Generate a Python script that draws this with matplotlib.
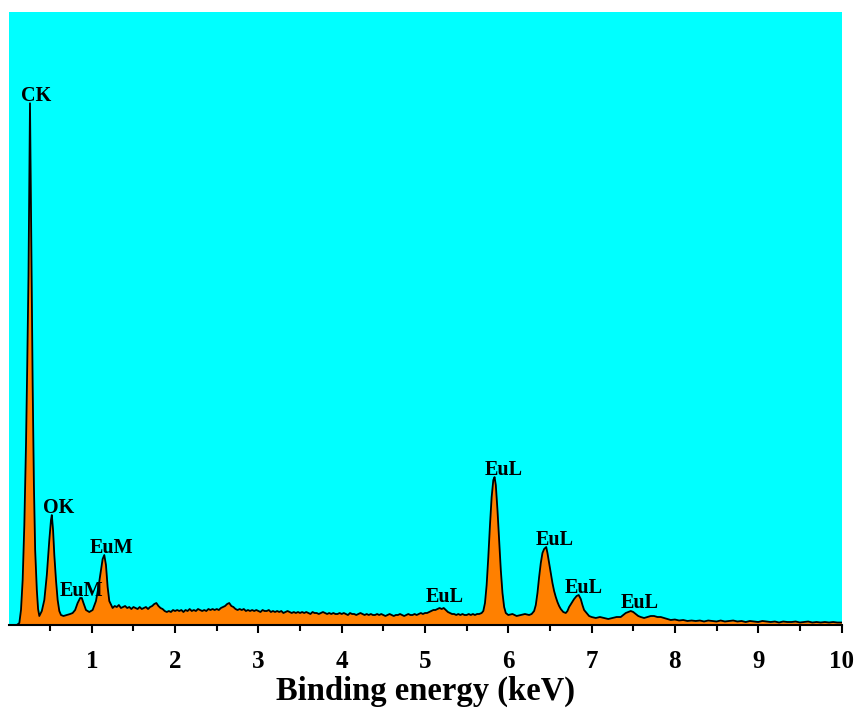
import matplotlib
matplotlib.use("Agg")
import matplotlib.pyplot as plt
from matplotlib.ticker import FixedLocator

# EDS spectrum, energy (keV) and detector counts (a.u.), in three stretches
# C K, O K and Eu M lines
low_energy = [
    0.10, 0.13, 0.15, 0.17, 0.19, 0.21, 0.225, 0.24, 0.25, 0.258,
    0.266, 0.275, 0.29, 0.305, 0.32, 0.34, 0.355, 0.37, 0.40, 0.43,
    0.46, 0.49, 0.51, 0.52, 0.535, 0.55, 0.57, 0.59, 0.61, 0.63,
    0.66, 0.70, 0.74, 0.77, 0.80, 0.83, 0.86, 0.88, 0.90, 0.93,
    0.97, 1.01, 1.05, 1.08, 1.11, 1.13, 1.15, 1.17, 1.19, 1.21,
]
low_counts = [
    0, 2, 15, 45, 100, 180, 260, 350, 440, 522,
    450, 360, 240, 140, 75, 35, 16, 9, 14, 25,
    50, 85, 105, 110, 95, 70, 45, 25, 14, 10,
    9, 10, 11, 12, 15, 22, 27, 27, 22, 15,
    13, 15, 24, 38, 55, 66, 70, 60, 38, 24,
]

# Bremsstrahlung background with the weak Eu L line near 5.2 keV
mid_energy = [
    1.250, 1.275, 1.300, 1.325, 1.350, 1.375, 1.400, 1.425, 1.450, 1.475,
    1.500, 1.525, 1.550, 1.575, 1.600, 1.625, 1.650, 1.675, 1.700, 1.725,
    1.750, 1.775, 1.800, 1.825, 1.850, 1.875, 1.900, 1.925, 1.950, 1.975,
    2.000, 2.025, 2.050, 2.075, 2.100, 2.125, 2.150, 2.175, 2.200, 2.225,
    2.250, 2.275, 2.300, 2.325, 2.350, 2.375, 2.400, 2.425, 2.450, 2.475,
    2.500, 2.525, 2.550, 2.575, 2.600, 2.625, 2.650, 2.675, 2.700, 2.725,
    2.750, 2.775, 2.800, 2.825, 2.850, 2.875, 2.900, 2.925, 2.950, 2.975,
    3.000, 3.025, 3.050, 3.075, 3.100, 3.125, 3.150, 3.175, 3.200, 3.225,
    3.250, 3.275, 3.300, 3.325, 3.350, 3.375, 3.400, 3.425, 3.450, 3.475,
    3.500, 3.525, 3.550, 3.575, 3.600, 3.625, 3.650, 3.675, 3.700, 3.725,
    3.750, 3.775, 3.800, 3.825, 3.850, 3.875, 3.900, 3.925, 3.950, 3.975,
    4.000, 4.025, 4.050, 4.075, 4.100, 4.125, 4.150, 4.175, 4.200, 4.225,
    4.250, 4.275, 4.300, 4.325, 4.350, 4.375, 4.400, 4.425, 4.450, 4.475,
    4.500, 4.525, 4.550, 4.575, 4.600, 4.625, 4.650, 4.675, 4.700, 4.725,
    4.750, 4.775, 4.800, 4.825, 4.850, 4.875, 4.900, 4.925, 4.950, 4.975,
    5.000, 5.025, 5.050, 5.075, 5.100, 5.125, 5.150, 5.175, 5.200, 5.225,
    5.250, 5.275, 5.300, 5.325, 5.350, 5.375, 5.400, 5.425, 5.450, 5.475,
    5.500, 5.525, 5.550, 5.575, 5.600, 5.625, 5.650,
]
mid_counts = [
    17, 19, 18, 20, 17, 18, 19, 17, 18, 16,
    18, 17, 16, 18, 16, 17, 18, 16, 18, 19,
    21, 22, 19, 17, 16, 14, 13, 14, 13, 15,
    14, 15, 14, 15, 13, 15, 14, 16, 14, 15,
    14, 16, 15, 14, 15, 14, 16, 15, 16, 15,
    16, 15, 17, 18, 19, 21, 22, 19, 18, 16,
    15, 16, 15, 16, 14, 15, 14, 15, 14, 15,
    14, 13, 15, 14, 14, 15, 13, 14, 13, 14,
    13, 14, 12, 13, 14, 13, 12, 13, 12, 13,
    12, 13, 12, 13, 12, 11, 13, 12, 12, 11,
    12, 13, 12, 11, 12, 11, 12, 11, 11, 12,
    11, 12, 11, 10, 12, 11, 11, 10, 11, 12,
    11, 10, 11, 10, 11, 10, 10, 11, 10, 11,
    10, 9, 10, 11, 10, 9, 10, 10, 11, 10,
    9, 10, 11, 10, 10, 11, 10, 11, 12, 11,
    12, 12, 13, 14, 15, 15, 16, 17, 16, 17,
    15, 13, 12, 11, 11, 10, 11, 10, 11, 10,
    10, 11, 10, 11, 10, 11, 11,
]

# Eu L series and the high-energy tail
high_energy = [
    5.68, 5.70, 5.72, 5.74, 5.76, 5.78, 5.80, 5.82, 5.835, 5.85,
    5.87, 5.89, 5.91, 5.93, 5.95, 5.97, 6.00, 6.05, 6.10, 6.15,
    6.20, 6.25, 6.28, 6.31, 6.33, 6.35, 6.37, 6.39, 6.41, 6.43,
    6.455, 6.47, 6.49, 6.51, 6.53, 6.55, 6.57, 6.59, 6.61, 6.63,
    6.66, 6.69, 6.71, 6.73, 6.76, 6.79, 6.82, 6.845, 6.87, 6.89,
    6.91, 6.94, 6.97, 7.00, 7.05, 7.10, 7.15, 7.20, 7.25, 7.30,
    7.35, 7.38, 7.41, 7.44, 7.47, 7.50, 7.53, 7.56, 7.59, 7.63,
    7.67, 7.71, 7.75, 7.79, 7.83, 7.87, 7.91, 7.95, 8.00, 8.05,
    8.10, 8.15, 8.20, 8.25, 8.30, 8.35, 8.40, 8.45, 8.50, 8.55,
    8.60, 8.65, 8.70, 8.75, 8.80, 8.85, 8.90, 8.95, 9.00, 9.05,
    9.10, 9.15, 9.20, 9.25, 9.30, 9.35, 9.40, 9.45, 9.50, 9.55,
    9.60, 9.65, 9.70, 9.75, 9.80, 9.85, 9.90, 9.95, 10.00,
]
high_counts = [
    12, 14, 22, 40, 68, 100, 128, 145, 148, 140,
    115, 85, 55, 32, 18, 12, 10, 11, 9, 10,
    11, 10, 11, 14, 20, 32, 48, 62, 72, 76,
    78, 72, 62, 52, 42, 34, 28, 23, 19, 16,
    13, 12, 14, 18, 22, 26, 29, 30, 26, 20,
    15, 12, 9, 8, 7, 8, 7, 6, 7, 8,
    8, 10, 12, 13, 14, 13, 11, 9, 8, 7,
    8, 9, 9, 8, 8, 7, 6, 5, 5.5, 4.5,
    5, 4, 4.5, 4, 4.5, 3.5, 4.5, 4, 3.5, 4.5,
    3.5, 4, 4.5, 3.5, 4, 3, 4, 3.5, 3, 4,
    3.5, 3, 3.5, 2.5, 3.5, 3, 3, 3.5, 2.5, 3,
    3.5, 2.5, 3, 2.5, 3, 2.5, 3, 2.5, 2.5,
]

energy = low_energy + mid_energy + high_energy
counts = low_counts + mid_counts + high_counts

# Element line labels and where each one is written
line_names = ["CK", "OK", "EuM", "EuM", "EuL", "EuL", "EuL", "EuL", "EuL"]
label_x = [0.334, 0.60, 0.875, 1.24, 5.24, 5.94, 6.56, 6.91, 7.58]
label_y = [524, 112, 29, 72, 23, 150, 80, 32, 17]

tick_values = [1, 2, 3, 4, 5, 6, 7, 8, 9, 10]
minor_values = [0.5, 1.5, 2.5, 3.5, 4.5, 5.5, 6.5, 7.5, 8.5, 9.5]

serif = ["Liberation Serif", "DejaVu Serif"]

fig = plt.figure(figsize=(8.58, 7.11), dpi=100)
ax = fig.add_axes([8.5 / 858, (711 - 625) / 711,
                   (841.5 - 8.5) / 858, (625 - 12.3) / 711])
ax.set_facecolor("#00FFFF")

ax.fill_between(energy, counts, 0, color="#FF8000", lw=0)
ax.plot(energy, counts, color="black", lw=1.3)

for name, x, y in zip(line_names, label_x, label_y):
    ax.text(x, y, name, ha="center", va="baseline", fontsize=14.5,
            fontweight="bold", family=serif)

ax.set_xlim(0, 10)
ax.set_ylim(0, 613)

for side in ("top", "right", "left"):
    ax.spines[side].set_visible(False)
ax.spines["bottom"].set_linewidth(1.5)

ax.set_yticks([])
ax.xaxis.set_major_locator(FixedLocator(tick_values))
ax.xaxis.set_minor_locator(FixedLocator(minor_values))
ax.set_xticklabels([str(v) for v in tick_values])
ax.tick_params(axis="x", which="major", direction="out", length=6,
               width=1.5, pad=12)
ax.tick_params(axis="x", which="minor", direction="out", length=4,
               width=1.5)
for lab in ax.get_xticklabels():
    lab.set_fontsize(18)
    lab.set_fontweight("bold")
    lab.set_family(serif)

ax.set_xlabel("Binding energy (keV)", fontsize=23.5, fontweight="bold",
              family=serif, labelpad=2)

fig.savefig("out.png", dpi=100, facecolor="white")
